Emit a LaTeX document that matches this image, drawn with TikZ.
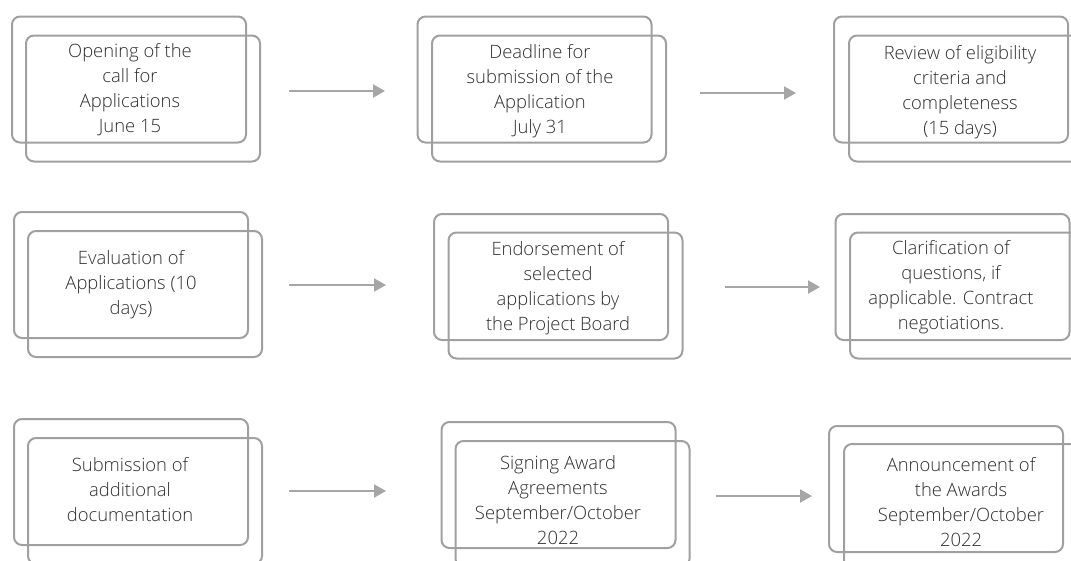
\documentclass[tikz,border=0pt]{standalone}
\usepackage{fontspec}
\setmainfont{Open Sans}[UprightFont=* Light]
\usetikzlibrary{arrows.meta}
\definecolor{boxline}{HTML}{A0A0A0}
\definecolor{arrowcol}{HTML}{A6A6A6}
\definecolor{txt}{HTML}{2E2E2E}
\begin{document}
\begin{tikzpicture}[x=1pt,y=-1pt,
  rbox/.style={draw=boxline, line width=2pt, rounded corners=8pt, minimum width=234pt, minimum height=126pt, inner sep=0pt},
  label/.style={align=center, text=txt, font=\fontsize{18.4}{25}\selectfont, inner sep=0pt, yshift=-2pt},
  flow/.style={draw=arrowcol, line width=2pt, -{Triangle[length=12pt,width=13pt]}}]
\useasboundingbox (0,0) rectangle (1071,560);
% row 1
\node[rbox] (b1a) at (129,79.5) {};
\node[rbox] (b1b) at (143,98.5) {};
\node[label] (t1) at (130,88) {Opening of the\\call for\\Applications\\June 15};
\node[rbox] (b2a) at (534.5,79.5) {};
\node[rbox] (b2b) at (549,98.5) {};
\node[label] (t2) at (540,89.5) {Deadline for\\submission of the\\Application\\July 31};
\node[rbox] (b3a) at (951,79.5) {};
\node[rbox] (b3b) at (966,98.5) {};
\node[label] (t3) at (960,90) {Review of eligibility\\criteria and\\completeness\\(15 days)};
% row 2
\node[rbox] (b4a) at (131,275) {};
\node[rbox] (b4b) at (145,294) {};
\node[label] (t4) at (131,283) {Evaluation of\\Applications (10\\days)};
\node[rbox] (b5a) at (551,277) {};
\node[rbox] (b5b) at (565.5,295.5) {};
\node[label] (t5) at (558,286) {Endorsement of\\selected\\applications by\\the Project Board};
\node[rbox] (b6a) at (952.5,277) {};
\node[rbox] (b6b) at (967,295.5) {};
\node[label] (t6) at (951,285) {Clarification of\\questions, if\\applicable. Contract\\negotiations.};
% row 3
\node[rbox] (b7a) at (131,482) {};
\node[rbox] (b7b) at (145,501) {};
\node[label] (t7) at (130,488) {Submission of\\additional\\documentation};
\node[rbox] (b8a) at (558.5,485) {};
\node[rbox] (b8b) at (572.5,504) {};
\node[label] (t8) at (558,498) {Signing Award\\Agreements\\September/October\\2022};
\node[rbox] (b9a) at (946,489) {};
\node[rbox] (b9b) at (961,507) {};
\node[label] (t9) at (961,500) {Announcement of\\the Awards\\September/October\\2022};
% arrow end points
\coordinate (a1s) at (289,91);  \coordinate (a1e) at (385,91);
\coordinate (a2s) at (700,93);  \coordinate (a2e) at (796,93);
\coordinate (a3s) at (289,285); \coordinate (a3e) at (386,285);
\coordinate (a4s) at (725,287); \coordinate (a4e) at (820,287);
\coordinate (a5s) at (289,491); \coordinate (a5e) at (386,491);
\coordinate (a6s) at (716,496); \coordinate (a6e) at (812,496);
\draw[flow] (a1s) -- (a1e);
\draw[flow] (a2s) -- (a2e);
\draw[flow] (a3s) -- (a3e);
\draw[flow] (a4s) -- (a4e);
\draw[flow] (a5s) -- (a5e);
\draw[flow] (a6s) -- (a6e);
\end{tikzpicture}
\end{document}
